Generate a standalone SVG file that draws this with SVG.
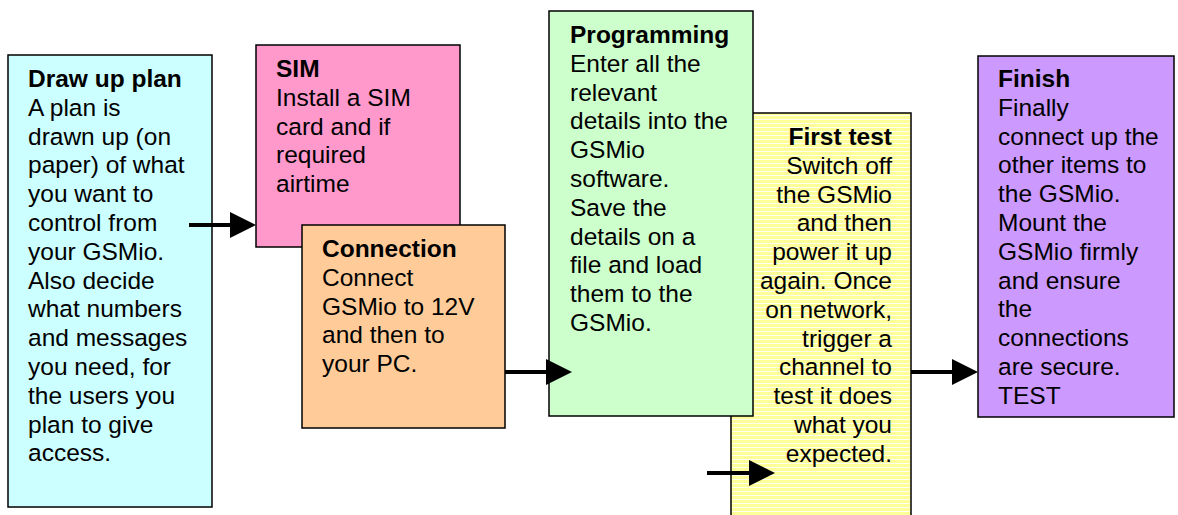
<svg xmlns="http://www.w3.org/2000/svg" width="1178" height="515" viewBox="0 0 1178 515">
<defs>
<style>
.box{stroke:#000;stroke-width:1.5}
text{font-family:"Liberation Sans",Arial,sans-serif;font-size:24.5px;fill:#000}
.t{font-weight:bold}
.conn line{stroke:#000;stroke-width:4}
</style>
<pattern id="stripes" width="8" height="4" patternUnits="userSpaceOnUse">
<rect width="8" height="4" fill="#FFFF99"/>
<rect y="3" width="8" height="1" fill="#FFFFFF" opacity="0.85"/>
</pattern>
<marker id="ah" viewBox="0 0 26 26" markerWidth="26" markerHeight="26" refX="10" refY="13" orient="auto" markerUnits="userSpaceOnUse">
<path d="M0,0 L26,13 L0,26 z" fill="#000"/>
</marker>
</defs>
<rect width="1178" height="515" fill="#fff"/>
<g id="plan">
<rect class="box" x="8" y="55" width="204" height="452" fill="#CCFFFF"/>
<text x="28" y="87"><tspan class="t">Draw up plan</tspan><tspan x="28" dy="28.8">A plan is</tspan><tspan x="28" dy="28.8">drawn up (on</tspan><tspan x="28" dy="28.8">paper) of what</tspan><tspan x="28" dy="28.8">you want to</tspan><tspan x="28" dy="28.8">control from</tspan><tspan x="28" dy="28.8">your GSMio.</tspan><tspan x="28" dy="28.8">Also decide</tspan><tspan x="28" dy="28.8">what numbers</tspan><tspan x="28" dy="28.8">and messages</tspan><tspan x="28" dy="28.8">you need, for</tspan><tspan x="28" dy="28.8">the users you</tspan><tspan x="28" dy="28.8">plan to give</tspan><tspan x="28" dy="28.8">access.</tspan></text>
</g>
<g id="sim">
<rect class="box" x="256" y="45" width="204" height="202" fill="#FF99CC"/>
<text x="276" y="77"><tspan class="t">SIM</tspan><tspan x="276" dy="28.8">Install a SIM</tspan><tspan x="276" dy="28.8">card and if</tspan><tspan x="276" dy="28.8">required</tspan><tspan x="276" dy="28.8">airtime</tspan></text>
</g>
<g id="connection">
<rect class="box" x="302" y="225" width="203" height="203" fill="#FFCC99"/>
<text x="322" y="257"><tspan class="t">Connection</tspan><tspan x="322" dy="28.8">Connect</tspan><tspan x="322" dy="28.8">GSMio to 12V</tspan><tspan x="322" dy="28.8">and then to</tspan><tspan x="322" dy="28.8">your PC.</tspan></text>
</g>
<g id="firsttest">
<rect class="box" x="731" y="113" width="180" height="412" fill="url(#stripes)"/>
<text x="892" y="145" text-anchor="end"><tspan class="t">First test</tspan><tspan x="892" dy="28.8">Switch off</tspan><tspan x="892" dy="28.8">the GSMio</tspan><tspan x="892" dy="28.8">and then</tspan><tspan x="892" dy="28.8">power it up</tspan><tspan x="892" dy="28.8">again. Once</tspan><tspan x="892" dy="28.8">on network,</tspan><tspan x="892" dy="28.8">trigger a</tspan><tspan x="892" dy="28.8">channel to</tspan><tspan x="892" dy="28.8">test it does</tspan><tspan x="892" dy="28.8">what you</tspan><tspan x="892" dy="28.8">expected.</tspan></text>
</g>
<g id="programming">
<rect class="box" x="549" y="11" width="204" height="405" fill="#CCFFCC"/>
<text x="570" y="43"><tspan class="t">Programming</tspan><tspan x="570" dy="28.8">Enter all the</tspan><tspan x="570" dy="28.8">relevant</tspan><tspan x="570" dy="28.8">details into the</tspan><tspan x="570" dy="28.8">GSMio</tspan><tspan x="570" dy="28.8">software.</tspan><tspan x="570" dy="28.8">Save the</tspan><tspan x="570" dy="28.8">details on a</tspan><tspan x="570" dy="28.8">file and load</tspan><tspan x="570" dy="28.8">them to the</tspan><tspan x="570" dy="28.8">GSMio.</tspan></text>
</g>
<g id="finish">
<rect class="box" x="978" y="56" width="196" height="361" fill="#CC99FF"/>
<text x="998" y="87"><tspan class="t">Finish</tspan><tspan x="998" dy="28.8">Finally</tspan><tspan x="998" dy="28.8">connect up the</tspan><tspan x="998" dy="28.8">other items to</tspan><tspan x="998" dy="28.8">the GSMio.</tspan><tspan x="998" dy="28.8">Mount the</tspan><tspan x="998" dy="28.8">GSMio firmly</tspan><tspan x="998" dy="28.8">and ensure</tspan><tspan x="998" dy="28.8">the</tspan><tspan x="998" dy="28.8">connections</tspan><tspan x="998" dy="28.8">are secure.</tspan><tspan x="998" dy="28.8">TEST</tspan></text>
</g>
<g class="conn" id="connectors">
<line x1="189" y1="225" x2="240" y2="225" marker-end="url(#ah)"/>
<line x1="505" y1="372" x2="556" y2="372" marker-end="url(#ah)"/>
<line x1="707" y1="473" x2="759" y2="473" marker-end="url(#ah)"/>
<line x1="911" y1="372" x2="962" y2="372" marker-end="url(#ah)"/>
</g>
</svg>
